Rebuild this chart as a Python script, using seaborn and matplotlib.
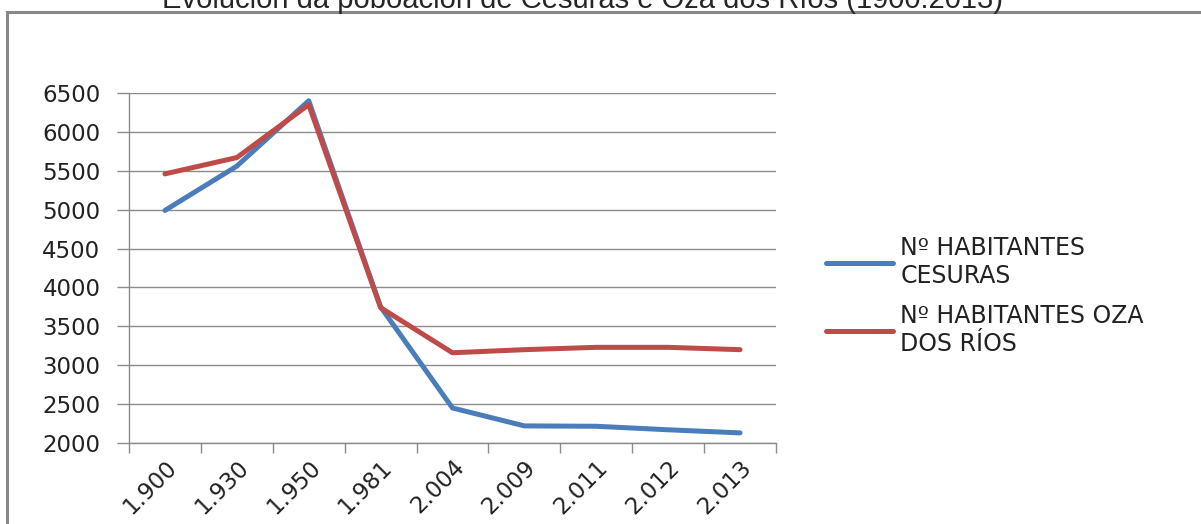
import matplotlib
matplotlib.use("Agg")
import matplotlib.pyplot as plt
import pandas as pd
import seaborn as sns
from matplotlib.patches import Rectangle

years = ["1.900", "1.930", "1.950", "1.981", "2.004", "2.009", "2.011", "2.012", "2.013"]
cesuras = [4990, 5560, 6400, 3750, 2450, 2220, 2215, 2170, 2130]
oza = [5460, 5670, 6350, 3740, 3160, 3200, 3230, 3230, 3200]
series_names = ["Nº HABITANTES\nCESURAS", "Nº HABITANTES OZA\nDOS RÍOS"]
title = "Evolución da poboación de Cesuras e Oza dos Ríos (1900:2013)"

df = pd.DataFrame({
    "ano": years * 2,
    "habitantes": cesuras + oza,
    "serie": [series_names[0]] * len(years) + [series_names[1]] * len(years),
})

sns.set_style("white")
plt.rcParams["font.family"] = ["DejaVu Sans"]

fig = plt.figure(figsize=(12.01, 5.24), dpi=100)
ax = fig.add_axes([129 / 1201, 1 - 443 / 524, (776 - 129) / 1201, (443 - 93) / 524])

sns.lineplot(data=df, x="ano", y="habitantes", hue="serie", sort=False,
             palette=["#4A7EBB", "#BE4B48"], linewidth=3.6, ax=ax, legend=True)

grey = "#8C8C8C"
ax.set_ylim(2000, 6500)
ax.set_xlim(-0.5, len(years) - 0.5)
ax.set_yticks(range(2000, 6501, 500))
ax.yaxis.grid(True, color=grey, linewidth=1)
ax.set_axisbelow(True)
ax.tick_params(axis="y", labelsize=16.5, length=8.6, width=1, pad=12, labelcolor="#222222")
ax.tick_params(axis="y", color=grey, left=True)

# category boundaries get the tick marks, labels sit at the centres
ax.set_xticks([i - 0.5 for i in range(len(years) + 1)])
ax.set_xticklabels([])
ax.set_xticks(range(len(years)), minor=True)
ax.set_xticklabels(years, minor=True, rotation=45, ha="right", rotation_mode="anchor",
                   fontsize=16.5, color="#222222")
ax.tick_params(axis="x", which="major", length=7.5, color=grey, width=1, bottom=True)
ax.tick_params(axis="x", which="minor", length=0, pad=9)

for s in ["top", "right"]:
    ax.spines[s].set_visible(False)
for s in ["left", "bottom"]:
    ax.spines[s].set_color(grey)
    ax.spines[s].set_linewidth(1)
ax.set_xlabel("")
ax.set_ylabel("")

leg = ax.legend(loc="upper left", bbox_to_anchor=(826 / 1201, 1 - 236 / 524),
                bbox_transform=fig.transFigure, frameon=False, fontsize=17,
                handlelength=2.85, handletextpad=0.3, labelspacing=0.7,
                borderpad=0, borderaxespad=0)
for line in leg.get_lines():
    line.set_linewidth(3.6)
for t in leg.get_texts():
    t.set_color("#222222")

# outer chart frame, runs past the right and bottom edges like the reference
fig.patches.append(Rectangle((7 / 1201, -0.1), 1.2, 1.1 - 12 / 524, transform=fig.transFigure,
                             fill=False, edgecolor="#888888", linewidth=2.2))
fig.text(582 / 1201, 1 - 8 / 524, title, ha="center", va="baseline", fontsize=21,
         family=["Liberation Sans", "DejaVu Sans"])

fig.savefig("out.png", dpi=100)
